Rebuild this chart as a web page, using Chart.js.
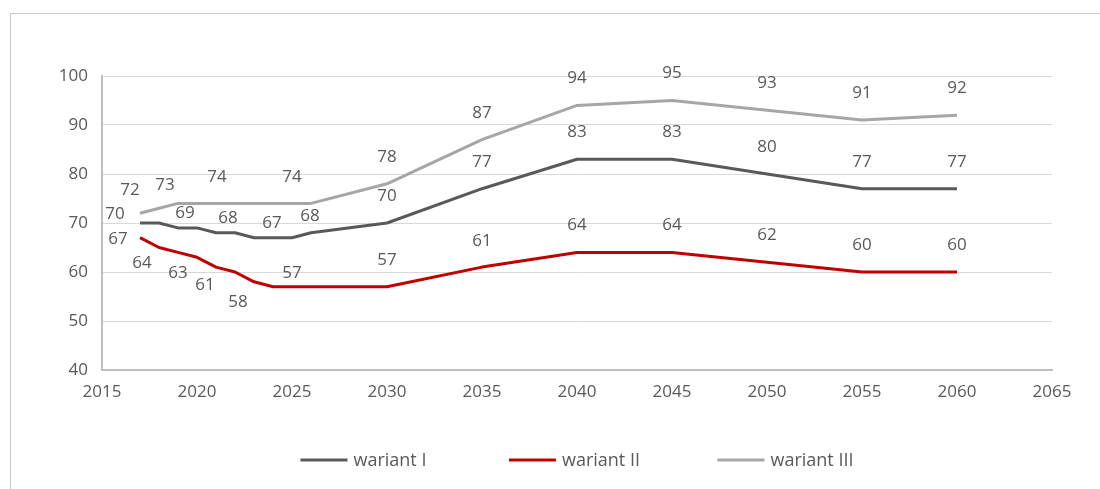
<!DOCTYPE html>
<html>
<head>
<meta charset="utf-8">
<script src="https://cdn.jsdelivr.net/npm/chart.js@4/dist/chart.umd.min.js"></script>
<style>
  html, body { margin: 0; padding: 0; background: #ffffff; }
  #wrap { position: relative; width: 1100px; height: 489px; overflow: hidden; }
  #frame { position: absolute; left: 10px; top: 13px; width: 1200px; height: 600px; border: 1px solid #c8c8c8; box-sizing: border-box; }
  #c { position: absolute; left: 0; top: 0; }
</style>
</head>
<body>
<div id="wrap">
  <div id="frame"></div>
  <canvas id="c" width="1100" height="489"></canvas>
</div>
<script>
// ---- data ----
const years = [2017, 2018, 2019, 2020, 2021, 2022, 2023, 2024, 2025, 2026, 2030, 2035, 2040, 2045, 2050, 2055, 2060];
const wariantI   = [70, 70, 69, 69, 68, 68, 67, 67, 67, 68, 70, 77, 83, 83, 80, 77, 77];
const wariantII  = [67, 65, 64, 63, 61, 60, 58, 57, 57, 57, 57, 61, 64, 64, 62, 60, 60];
const wariantIII = [72, 73, 74, 74, 74, 74, 74, 74, 74, 74, 78, 87, 94, 95, 93, 91, 92];
const seriesNames = ['wariant I', 'wariant II', 'wariant III'];
const xTicks = [2015, 2020, 2025, 2030, 2035, 2040, 2045, 2050, 2055, 2060, 2065];
const yTicks = [40, 50, 60, 70, 80, 90, 100];

// ---- styling ----
const TEXT = '#595959';
const FONT = '"Open Sans", "Noto Sans", sans-serif';
const colors = ['#595959', '#c00000', '#a6a6a6'];

// which points carry a value label, and where it sits relative to the point (dx, dy in px)
const labelSpots = [
  [[0,-25,-9],[2,7,-15],[5,-7,-15],[7,-1,-15],[9,-1,-17],[10,0,-27],[11,0,-27],[12,0,-27],[13,0,-27],[14,0,-27],[15,0,-27],[16,0,-27]],
  [[0,-22,1],[2,-36,11],[3,-19,16],[4,-11,18],[6,-16,20],[8,0,-14],[10,0,-27],[11,0,-26],[12,0,-27],[13,0,-27],[14,0,-27],[15,0,-27],[16,0,-27]],
  [[0,-10,-23],[1,6,-23],[4,1,-26],[8,0,-26],[10,0,-27],[11,0,-27],[12,0,-27],[13,0,-27],[14,0,-27],[15,0,-27],[16,0,-27]]
];

const toPts = arr => years.map((y, i) => ({ x: y, y: arr[i] }));
const allSeries = [wariantI, wariantII, wariantIII];

const valueLabels = {
  id: 'valueLabels',
  afterDatasetsDraw(chart) {
    const ctx = chart.ctx;
    ctx.save();
    ctx.font = '17px ' + FONT;
    ctx.fillStyle = TEXT;
    ctx.textAlign = 'center';
    ctx.textBaseline = 'middle';
    chart.data.datasets.forEach((ds, di) => {
      const meta = chart.getDatasetMeta(di);
      labelSpots[di].forEach(([idx, dx, dy]) => {
        const p = meta.data[idx];
        ctx.fillText(String(allSeries[di][idx]), p.x + dx, p.y + dy);
      });
    });
    ctx.restore();
  }
};

const customLegend = {
  id: 'customLegend',
  afterDraw(chart) {
    const ctx = chart.ctx;
    ctx.save();
    ctx.font = '18px ' + FONT;
    ctx.textBaseline = 'middle';
    ctx.textAlign = 'left';
    const lineW = 47, gapText = 6, pitch = 208.5, y = 460;
    const n = chart.data.datasets.length;
    const lastW = lineW + gapText + ctx.measureText(chart.data.datasets[n - 1].label).width;
    const total = pitch * (n - 1) + lastW;
    const ca = chart.chartArea;
    let x = (ca.left + ca.right) / 2 - total / 2;
    chart.data.datasets.forEach((d, i) => {
      ctx.strokeStyle = d.borderColor;
      ctx.lineWidth = 3;
      ctx.beginPath();
      ctx.moveTo(x, y);
      ctx.lineTo(x + lineW, y);
      ctx.stroke();
      ctx.fillStyle = TEXT;
      ctx.fillText(d.label, x + lineW + gapText, y + 1);
      x += pitch;
    });
    ctx.restore();
  }
};

new Chart(document.getElementById('c'), {
  type: 'line',
  data: {
    datasets: allSeries.map((s, i) => ({
      label: seriesNames[i],
      data: toPts(s),
      borderColor: colors[i],
      backgroundColor: colors[i],
      borderWidth: 3,
      pointRadius: 0,
      pointHoverRadius: 0,
      tension: 0,
      borderJoinStyle: 'round',
      fill: false
    }))
  },
  options: {
    responsive: false,
    animation: false,
    events: [],
    layout: { autoPadding: false, padding: { left: 0, right: 48, top: 76, bottom: 89 } },
    plugins: { legend: { display: false }, tooltip: { enabled: false }, title: { display: false } },
    scales: {
      x: {
        type: 'linear',
        min: 2015, max: 2065,
        afterBuildTicks: axis => { axis.ticks = xTicks.map(v => ({ value: v })); },
        afterFit: axis => { axis.height = 30; },
        grid: { color: 'rgba(0,0,0,0)', drawTicks: false },
        border: { display: true, color: '#bfbfbf', width: 2 },
        ticks: { color: TEXT, font: { family: FONT, size: 17 }, padding: 12, maxRotation: 0, autoSkip: false,
                 callback: v => String(v) }
      },
      y: {
        min: 40, max: 100,
        afterBuildTicks: axis => { axis.ticks = yTicks.map(v => ({ value: v })); },
        afterFit: axis => { axis.width = 102; },
        grid: { color: '#d9d9d9', lineWidth: 1, drawTicks: false },
        border: { display: true, color: '#bfbfbf', width: 2 },
        ticks: { color: TEXT, font: { family: FONT, size: 17 }, padding: 14, callback: v => String(v) }
      }
    }
  },
  plugins: [valueLabels, customLegend]
});
</script>
</body>
</html>
